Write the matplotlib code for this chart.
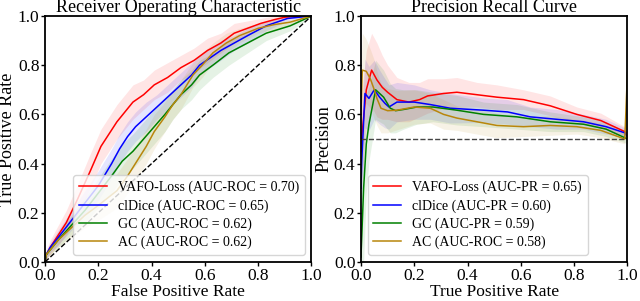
import numpy as np
import matplotlib.pyplot as plt

plt.rcParams['font.family'] = ['Liberation Serif', 'DejaVu Serif']

methods = ['VAFO-Loss', 'clDice', 'GC', 'AC']
colors = ['red', 'blue', 'green', 'darkgoldenrod']
roc_auc = [0.70, 0.65, 0.62, 0.62]
pr_auc_labels = ['AUC-PR = 0.65', 'AUC-PR = 0.60', 'AUC-PR = 0.59', 'AUC-ROC = 0.58']

# ROC curves (mean) and spread
fpr_vafo = [0, 0.005, 0.02, 0.05, 0.08, 0.12, 0.17, 0.21, 0.24, 0.27, 0.30, 0.33, 0.37, 0.41, 0.46, 0.51, 0.56, 0.61, 0.66, 0.71, 0.76, 0.81, 0.86, 0.90, 0.95, 1.0]
tpr_vafo = [0, 0.03, 0.06, 0.11, 0.16, 0.25, 0.37, 0.47, 0.52, 0.57, 0.61, 0.65, 0.68, 0.72, 0.75, 0.79, 0.82, 0.86, 0.89, 0.93, 0.95, 0.97, 0.985, 0.995, 1.0, 1.0]
std_vafo = [0, 0.02, 0.03, 0.04, 0.05, 0.06, 0.07, 0.07, 0.07, 0.07, 0.07, 0.07, 0.06, 0.06, 0.06, 0.05, 0.05, 0.05, 0.04, 0.04, 0.03, 0.02, 0.015, 0.01, 0.005, 0]

fpr_cldice = [0, 0.005, 0.02, 0.05, 0.10, 0.15, 0.20, 0.25, 0.28, 0.31, 0.34, 0.38, 0.42, 0.46, 0.51, 0.55, 0.58, 0.62, 0.66, 0.71, 0.76, 0.83, 0.91, 1.0]
tpr_cldice = [0, 0.03, 0.06, 0.10, 0.17, 0.24, 0.31, 0.40, 0.46, 0.51, 0.55, 0.59, 0.63, 0.67, 0.72, 0.76, 0.80, 0.83, 0.86, 0.89, 0.92, 0.96, 0.99, 1.0]
std_cldice = [0, 0.015, 0.02, 0.03, 0.04, 0.05, 0.06, 0.06, 0.06, 0.06, 0.06, 0.06, 0.05, 0.05, 0.05, 0.05, 0.04, 0.04, 0.04, 0.03, 0.03, 0.02, 0.01, 0]

fpr_gc = [0, 0.005, 0.02, 0.05, 0.10, 0.15, 0.20, 0.25, 0.29, 0.33, 0.37, 0.41, 0.45, 0.48, 0.51, 0.55, 0.58, 0.63, 0.69, 0.76, 0.83, 0.92, 0.97, 1.0]
tpr_gc = [0, 0.03, 0.05, 0.09, 0.15, 0.21, 0.28, 0.35, 0.41, 0.45, 0.50, 0.55, 0.60, 0.64, 0.68, 0.72, 0.76, 0.80, 0.85, 0.89, 0.93, 0.96, 0.985, 1.0]
std_gc = [0, 0.015, 0.02, 0.03, 0.04, 0.05, 0.06, 0.07, 0.07, 0.07, 0.07, 0.07, 0.07, 0.06, 0.06, 0.06, 0.06, 0.05, 0.05, 0.04, 0.03, 0.02, 0.01, 0]

fpr_ac = [0, 0.005, 0.02, 0.05, 0.10, 0.15, 0.20, 0.27, 0.31, 0.345, 0.38, 0.41, 0.45, 0.48, 0.51, 0.555, 0.59, 0.63, 0.68, 0.73, 0.80, 0.86, 0.92, 1.0]
tpr_ac = [0, 0.03, 0.05, 0.09, 0.14, 0.19, 0.23, 0.29, 0.35, 0.41, 0.47, 0.53, 0.59, 0.64, 0.68, 0.76, 0.80, 0.85, 0.89, 0.92, 0.95, 0.965, 0.975, 1.0]
std_ac = [0, 0.015, 0.02, 0.03, 0.04, 0.05, 0.06, 0.07, 0.07, 0.07, 0.07, 0.07, 0.06, 0.06, 0.06, 0.05, 0.05, 0.04, 0.04, 0.03, 0.02, 0.02, 0.01, 0]

# Precision-recall curves (mean) and spread
rec_vafo = [0.0, 0.004, 0.02, 0.04, 0.06, 0.08, 0.10, 0.135, 0.18, 0.22, 0.25, 0.31, 0.36, 0.435, 0.51, 0.61, 0.71, 0.81, 0.90, 0.99, 1.0]
prec_vafo = [0.45, 0.52, 0.70, 0.78, 0.74, 0.71, 0.69, 0.66, 0.65, 0.66, 0.675, 0.685, 0.69, 0.68, 0.67, 0.66, 0.635, 0.60, 0.575, 0.53, 0.52]
pstd_vafo = [0.2, 0.18, 0.16, 0.15, 0.15, 0.13, 0.11, 0.09, 0.08, 0.07, 0.07, 0.06, 0.06, 0.05, 0.05, 0.04, 0.04, 0.03, 0.03, 0.02, 0.02]

rec_cldice = [0.0, 0.003, 0.015, 0.03, 0.05, 0.07, 0.09, 0.105, 0.135, 0.2, 0.26, 0.335, 0.46, 0.55, 0.635, 0.735, 0.835, 0.92, 0.99, 1.0]
prec_cldice = [0.30, 0.41, 0.685, 0.665, 0.70, 0.67, 0.645, 0.63, 0.65, 0.65, 0.64, 0.625, 0.617, 0.61, 0.59, 0.58, 0.57, 0.55, 0.525, 0.51]
pstd_cldice = [0.2, 0.18, 0.14, 0.13, 0.12, 0.11, 0.10, 0.09, 0.08, 0.07, 0.06, 0.06, 0.05, 0.05, 0.04, 0.04, 0.03, 0.03, 0.02, 0.02]

rec_gc = [0.0, 0.01, 0.02, 0.03, 0.055, 0.085, 0.11, 0.13, 0.16, 0.21, 0.27, 0.36, 0.46, 0.585, 0.71, 0.835, 0.92, 0.99, 1.0]
prec_gc = [0.02, 0.30, 0.48, 0.56, 0.70, 0.67, 0.625, 0.615, 0.62, 0.63, 0.63, 0.617, 0.60, 0.59, 0.57, 0.56, 0.54, 0.505, 0.50]
pstd_gc = [0.4, 0.3, 0.2, 0.15, 0.12, 0.11, 0.10, 0.09, 0.08, 0.07, 0.06, 0.06, 0.05, 0.05, 0.04, 0.03, 0.03, 0.02, 0.02]

rec_ac = [0.0, 0.005, 0.02, 0.035, 0.05, 0.06, 0.075, 0.10, 0.135, 0.2, 0.26, 0.31, 0.36, 0.435, 0.51, 0.61, 0.71, 0.81, 0.90, 0.99, 1.0]
prec_ac = [0.60, 0.78, 0.775, 0.745, 0.70, 0.665, 0.625, 0.615, 0.617, 0.63, 0.625, 0.60, 0.585, 0.57, 0.555, 0.55, 0.555, 0.55, 0.535, 0.50, 0.77]
pstd_ac = [0.2, 0.15, 0.13, 0.12, 0.12, 0.11, 0.10, 0.09, 0.08, 0.07, 0.06, 0.06, 0.05, 0.05, 0.05, 0.04, 0.04, 0.03, 0.03, 0.02, 0.02]

roc_x = [fpr_vafo, fpr_cldice, fpr_gc, fpr_ac]
roc_y = [tpr_vafo, tpr_cldice, tpr_gc, tpr_ac]
roc_s = [std_vafo, std_cldice, std_gc, std_ac]
pr_x = [rec_vafo, rec_cldice, rec_gc, rec_ac]
pr_y = [prec_vafo, prec_cldice, prec_gc, prec_ac]
pr_s = [pstd_vafo, pstd_cldice, pstd_gc, pstd_ac]

fig = plt.figure(figsize=(6.4, 3.01), dpi=100)
ax1 = fig.add_axes([0.0703, 0.1296, 0.4164, 0.8173])
ax2 = fig.add_axes([0.5640, 0.1296, 0.4164, 0.8173])

for i in range(4):
    x = np.array(roc_x[i])
    y = np.array(roc_y[i])
    s = np.array(roc_s[i])
    ax1.fill_between(x, np.clip(y - s, 0, 1), np.clip(y + s, 0, 1), color=colors[i], alpha=0.1, linewidth=0)
    ax1.plot(x, y, color=colors[i], lw=1.1, label=f'{methods[i]} (AUC-ROC = {roc_auc[i]:.2f})')
ax1.plot([0, 1], [0, 1], 'k--', lw=1)

for i in range(4):
    x = np.array(pr_x[i])
    y = np.array(pr_y[i])
    s = np.array(pr_s[i])
    ax2.fill_between(x, np.clip(y - s, 0, 1), np.clip(y + s, 0, 1), color=colors[i], alpha=0.1, linewidth=0)
    ax2.plot(x, y, color=colors[i], lw=1.1, label=f'{methods[i]} ({pr_auc_labels[i]})')
ax2.axhline(0.5, color='#444444', ls='--', lw=1)

for ax in (ax1, ax2):
    ax.set_xlim(0, 1)
    ax.set_ylim(0, 1)
    ax.set_xticks([0, 0.2, 0.4, 0.6, 0.8, 1.0])
    ax.set_yticks([0, 0.2, 0.4, 0.6, 0.8, 1.0])
    ax.tick_params(labelsize=12.5, length=3, width=1, pad=1)
    for sp in ax.spines.values():
        sp.set_linewidth(1.3)

ax1.set_title('Receiver Operating Characteristic', fontsize=13, pad=1)
ax1.set_xlabel('False Positive Rate', fontsize=12.5, labelpad=0)
ax1.set_ylabel('True Positive Rate', fontsize=13, labelpad=1)
ax1.legend(loc='lower right', fontsize=10, handlelength=2.0, labelspacing=0.35)

ax2.set_title('Precision Recall Curve', fontsize=13, pad=1)
ax2.set_xlabel('True Positive Rate', fontsize=12.5, labelpad=0)
ax2.set_ylabel('Precision', fontsize=13, labelpad=1)
ax2.legend(loc='lower left', fontsize=10, handlelength=2.0, labelspacing=0.35)

fig.savefig('out.png', dpi=100)
